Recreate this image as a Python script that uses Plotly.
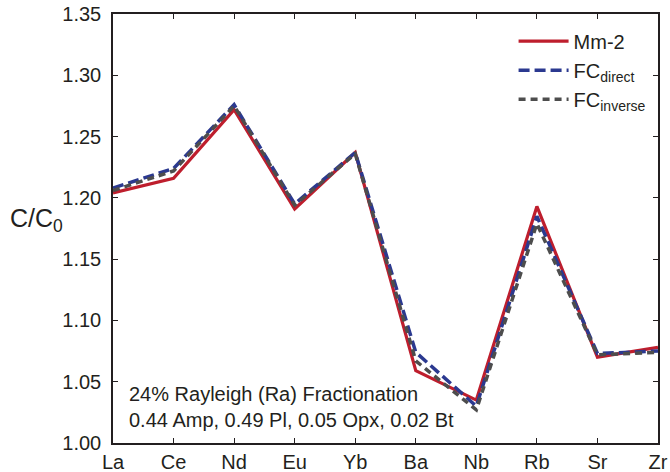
import plotly.graph_objects as go

elements = ["La", "Ce", "Nd", "Eu", "Yb", "Ba", "Nb", "Rb", "Sr", "Zr"]
mm2 = [1.204, 1.216, 1.272, 1.191, 1.237, 1.059, 1.035, 1.193, 1.070, 1.078]
fc_direct = [1.208, 1.224, 1.276, 1.195, 1.237, 1.074, 1.030, 1.185, 1.073, 1.075]
fc_inverse = [1.206, 1.222, 1.275, 1.194, 1.236, 1.067, 1.027, 1.179, 1.072, 1.074]
y_ticks = [1.00, 1.05, 1.10, 1.15, 1.20, 1.25, 1.30, 1.35]

FONT = "Arial, Liberation Sans, Helvetica, sans-serif"

fig = go.Figure()
fig.add_trace(go.Scatter(x=elements, y=mm2, mode="lines", name="Mm-2",
                         line=dict(color="#BE1E2D", width=3.2)))
fig.add_trace(go.Scatter(x=elements, y=fc_direct, mode="lines", name="FC<sub>direct</sub>",
                         line=dict(color="#2B3990", width=3.5, dash="11px,5px")))
fig.add_trace(go.Scatter(x=elements, y=fc_inverse, mode="lines", name="FC<sub>inverse</sub>",
                         line=dict(color="#4D4D4D", width=3.5, dash="7px,5px")))

axis_common = dict(showline=True, linecolor="#231F20", linewidth=1.5, mirror="ticks",
                   ticks="inside", ticklen=5, tickwidth=1, tickcolor="#231F20",
                   showgrid=False, zeroline=False, automargin=False,
                   tickfont=dict(family=FONT, size=20, color="#231F20"))

fig.update_xaxes(type="category", range=[0, len(elements) - 1], **axis_common)
fig.update_yaxes(range=[1.0, 1.35], tickvals=y_ticks, tickformat=".2f",
                 ticklabelstandoff=6, **axis_common)

fig.add_annotation(xref="paper", yref="paper", x=-0.192, y=0.52, xanchor="left", yanchor="middle",
                   text="C/C<sub>0</sub>", showarrow=False,
                   font=dict(family=FONT, size=25, color="#231F20"))
fig.add_annotation(xref="paper", yref="paper", x=0.026, y=0.084, xanchor="left", yanchor="middle",
                   align="left", showarrow=False,
                   text="24% Rayleigh (Ra) Fractionation<br>0.44 Amp, 0.49 Pl, 0.05 Opx, 0.02 Bt",
                   font=dict(family=FONT, size=20, color="#231F20"))

fig.update_layout(
    width=670, height=472,
    margin=dict(l=113, r=12, t=14, b=29, autoexpand=False),
    paper_bgcolor="white", plot_bgcolor="white",
    showlegend=True,
    legend=dict(x=0.735, y=0.982, xanchor="left", yanchor="top",
                bgcolor="rgba(0,0,0,0)", itemwidth=50, tracegroupgap=0,
                font=dict(family=FONT, size=20, color="#231F20")),
)

fig.write_html("out.html")
